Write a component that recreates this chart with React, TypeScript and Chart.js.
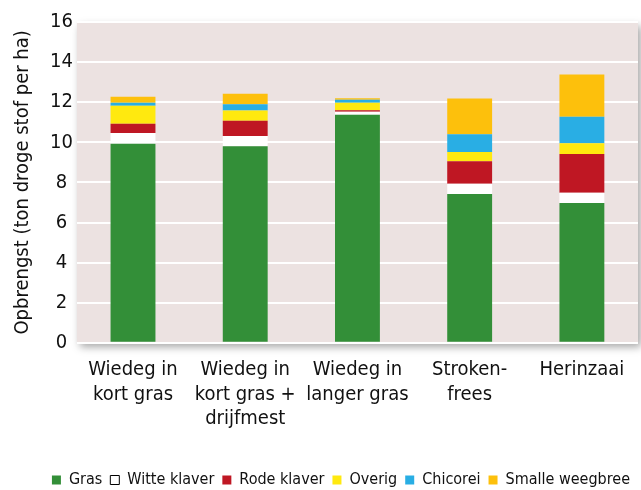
import React, { useEffect, useRef } from "react";
import { Chart, registerables } from "chart.js";

Chart.register(...registerables);

const categories: string[][] = [
  ["Wiedeg in", "kort gras"],
  ["Wiedeg in", "kort gras +", "drijfmest"],
  ["Wiedeg in", "langer gras"],
  ["Stroken-", "frees"],
  ["Herinzaai"],
];

const gras = [9.93, 9.8, 11.37, 7.42, 6.97];
const witteKlaver = [0.54, 0.52, 0.15, 0.51, 0.51];
const rodeKlaver = [0.45, 0.75, 0.08, 1.12, 1.94];
const overig = [0.9, 0.51, 0.37, 0.47, 0.53];
const chicorei = [0.15, 0.32, 0.15, 0.88, 1.33];
const smalleWeegbree = [0.3, 0.52, 0.08, 1.78, 2.1];

const yTicks = [0, 2, 4, 6, 8, 10, 12, 14, 16];

const FONT = "'DejaVu Sans Condensed', 'Liberation Sans Narrow', 'DejaVu Sans', sans-serif";

const plotBg = {
  id: "plotBg",
  beforeDraw(chart: any) {
    const { ctx, chartArea } = chart;
    if (!chartArea) return;
    ctx.save();
    ctx.shadowColor = "rgba(0,0,0,0.35)";
    ctx.shadowBlur = 8;
    ctx.shadowOffsetX = 3;
    ctx.shadowOffsetY = 4;
    ctx.fillStyle = "#ece2e1";
    ctx.fillRect(chartArea.left, chartArea.top, chartArea.right - chartArea.left, chartArea.bottom - chartArea.top);
    ctx.restore();
  },
};

const legendHeight = {
  id: "legendHeight",
  beforeLayout(chart: any) {
    const lg = chart.legend;
    if (lg && !lg.__patched) {
      const orig = lg.fit;
      lg.fit = function () {
        orig.call(this);
        this.height = 26;
      };
      lg.__patched = true;
    }
  },
};

export default function App() {
  const ref = useRef<HTMLCanvasElement | null>(null);
  useEffect(() => {
    if (!ref.current) return;
    const mk = (label: string, data: number[], color: string) => ({
      label,
      data,
      backgroundColor: color,
      borderColor: color,
      borderWidth: 0,
      barPercentage: 0.4,
      categoryPercentage: 1,
    });
    const chart = new Chart(ref.current, {
      type: "bar",
      data: {
        labels: categories,
        datasets: [
          mk("Gras", gras, "#338f38"),
          mk("Witte klaver", witteKlaver, "#ffffff"),
          mk("Rode klaver", rodeKlaver, "#bf1723"),
          mk("Overig", overig, "#ffe90f"),
          mk("Chicorei", chicorei, "#29aee4"),
          mk("Smalle weegbree", smalleWeegbree, "#fdc00c"),
        ],
      },
      options: {
        animation: false,
        responsive: false,
        maintainAspectRatio: false,
        layout: { padding: { left: 11, right: 3, top: 22, bottom: 0 } },
        plugins: {
          tooltip: { enabled: false },
          legend: {
            position: "bottom",
            align: "end",
            labels: {
              color: "#111",
              font: { family: FONT, size: 16 },
              boxWidth: 9,
              boxHeight: 9,
              padding: 8,
              generateLabels(chart: any) {
                return chart.data.datasets.map((ds: any, i: number) => ({
                  text: ds.label,
                  fillStyle: ds.backgroundColor,
                  strokeStyle: i === 1 ? "#000" : ds.backgroundColor,
                  lineWidth: i === 1 ? 1 : 0,
                  fontColor: "#111",
                  datasetIndex: i,
                  hidden: false,
                }));
              },
            },
          },
        },
        scales: {
          x: {
            stacked: true,
            grid: { display: false },
            border: { display: false },
            ticks: {
              color: "#111",
              font: { family: FONT, size: 20, lineHeight: 1.22 },
              padding: 7,
              maxRotation: 0,
              autoSkip: false,
            },
            afterFit(axis: any) {
              axis.height += 26;
            },
          },
          y: {
            stacked: true,
            min: 0,
            max: 16,
            afterBuildTicks(axis: any) {
              axis.ticks = yTicks.map((v) => ({ value: v }));
            },
            grid: { color: "#ffffff", lineWidth: 2, drawTicks: false },
            border: { display: false },
            ticks: {
              color: "#111",
              font: { family: FONT, size: 20 },
              padding: 4,
              crossAlign: "center",
            },
            title: {
              display: true,
              text: "Opbrengst (ton droge stof per ha)",
              color: "#111",
              font: { family: FONT, size: 20 },
              padding: { top: 0, bottom: 11 },
            },
          },
        },
      },
      plugins: [plotBg, legendHeight],
    } as any);
    return () => chart.destroy();
  }, []);
  return (
    <div style={{ position: "fixed", left: 0, top: 0, width: 641, height: 490, background: "#fff" }}>
      <canvas ref={ref} width={641} height={490} style={{ display: "block", width: 641, height: 490 }} />
    </div>
  );
}
